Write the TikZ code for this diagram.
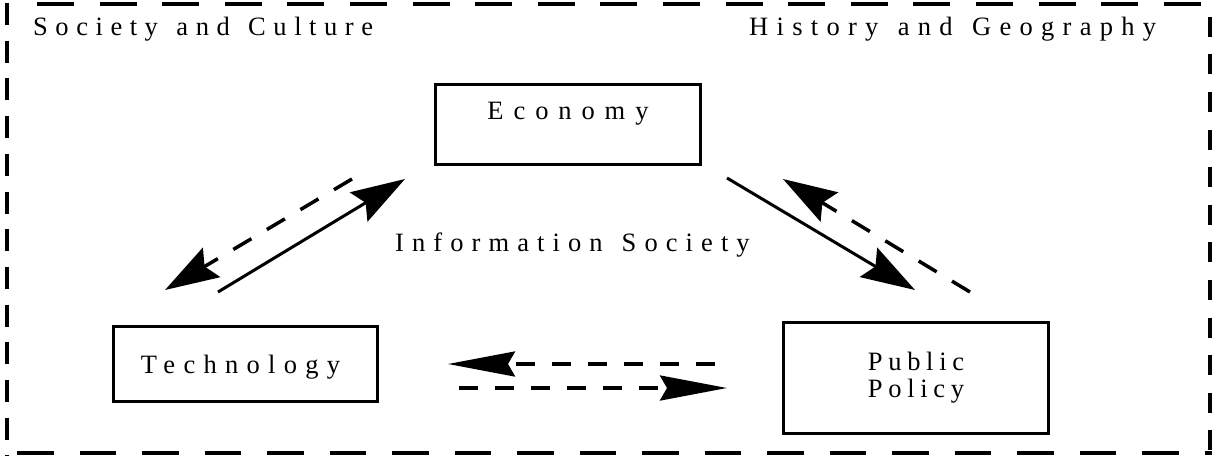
\documentclass[tikz,border=0pt]{standalone}
\usepackage{fontspec}
\setmainfont{Liberation Serif}
\newfontfamily\spfont[LetterSpace=31.3, WordSpace=1.3]{Liberation Serif}
\usetikzlibrary{arrows.meta}
\tikzset{
  frameline/.style={line width=4pt, black},
  box/.style={draw, line width=3pt, inner sep=0pt,
    font=\spfont\fontsize{26.5}{27}\selectfont},
  lbl/.style={inner sep=0pt, font=\spfont\fontsize{26.5}{27}\selectfont},
  diaghead/.style={-{Stealth[length=54pt,width=34pt,inset=8pt]}},
  flathead/.style={-{Stealth[length=67pt,width=25pt,inset=7pt]}},
  solidarr/.style={line width=3pt, diaghead},
  dasharr/.style={line width=3.5pt, dash pattern=on 21pt off 18pt, diaghead},
  flatarr/.style={line width=3.5pt, dash pattern=on 19pt off 17pt, flathead}
}
\begin{document}
\begin{tikzpicture}[x=1pt,y=1pt]
\useasboundingbox (0,0) rectangle (1212,-456);
% outer dashed frame
\draw[frameline, dash pattern=on 37pt off 25.6pt] (37,-3.5) -- (1212,-3.5);
\draw[frameline, dash pattern=on 36.5pt off 26pt] (17,-452.5) -- (1212,-452.5);
\draw[frameline, dash pattern=on 22pt off 15.7pt] (6.5,-3) -- (6.5,-456);
\draw[frameline, dash pattern=on 20pt off 17.6pt] (1209.5,-16.7) -- (1209.5,-456);
% corner labels
\node[lbl, anchor=base west] (soc) at (33,-35) {\addfontfeature{LetterSpace=28.5}Society and Culture};
\node[lbl, anchor=base west] (hist) at (749,-35) {History and Geography};
\node[lbl, anchor=base west] (info) at (395,-251) {\addfontfeature{LetterSpace=30.5}Information Society};
% boxes
\node[box, minimum width=265pt, minimum height=79.5pt, text height=18pt, text depth=28.5pt] (econ) at (568,-124.25) {\addfontfeature{LetterSpace=37.4}Economy};
\node[box, minimum width=264pt, minimum height=75pt, text height=23.8pt, text depth=5.8pt] (tech) at (245.5,-364) {Technology\kern10pt};
\node[box, align=center, minimum width=265pt, minimum height=111pt] (policy) at (916,-378) {\addfontfeature{LetterSpace=21.5}Public\\\addfontfeature{LetterSpace=21.5}Policy};
% arrow end points
\coordinate (l1s) at (352,-179); \coordinate (l1e) at (165,-290);
\coordinate (l2s) at (218,-292); \coordinate (l2e) at (405,-179);
\coordinate (r1s) at (727,-178); \coordinate (r1e) at (915,-290);
\coordinate (r2s) at (970,-292); \coordinate (r2e) at (783,-179);
\coordinate (b1s) at (715,-364); \coordinate (b1e) at (448,-364);
\coordinate (b2s) at (459,-388); \coordinate (b2e) at (727,-388);
% arrows
\draw[dasharr] (l1s) -- (l1e);
\draw[solidarr] (l2s) -- (l2e);
\draw[solidarr] (r1s) -- (r1e);
\draw[dasharr] (r2s) -- (r2e);
\draw[flatarr] (b1s) -- (b1e);
\draw[flatarr] (b2s) -- (b2e);
\end{tikzpicture}
\end{document}
